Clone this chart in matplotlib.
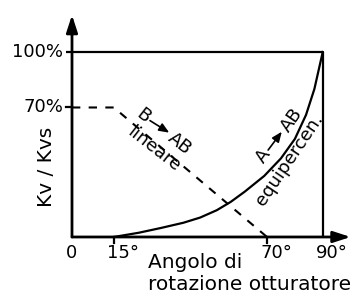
import matplotlib
matplotlib.use('Agg')
import matplotlib.pyplot as plt
import matplotlib.transforms as mtransforms

# valve characteristic
eq_angle = [15, 24, 32, 40, 46, 52, 57, 62, 69, 75, 80, 84, 87, 90]
eq_value = [0, 2.3, 4.9, 7.7, 10.5, 14.5, 19, 24.5, 33, 42.5, 53, 66, 80, 100]

lin_angle = [0, 15, 70]
lin_value = [70, 70, 0]

x_ticks = [0, 15, 70, 90]
x_labels = ['0', '15°', '70°', '90°']
y_ticks = [70, 100]
y_labels = ['70%', '100%']

plt.rcParams['font.family'] = ['DejaVu Sans']
FS = 13
FS_T = 14.5

fig = plt.figure(figsize=(3.53, 2.96), dpi=100)
ax = fig.add_axes([0, 0, 1, 1])
ax.set_xlim(-25.84, 100.86)
ax.set_ylim(-31.9, 128.1)
ax.axis('off')

# axes with arrow heads
arrow = dict(arrowstyle='-|>,head_length=0.8,head_width=0.26', lw=2, color='black',
             mutation_scale=13, shrinkA=0, shrinkB=0)
ax.annotate('', xy=(0, 120), xytext=(0, 0), arrowprops=arrow)
ax.annotate('', xy=(100, 0), xytext=(0, 0), arrowprops=arrow)

# box to 100% / 90 deg
ax.plot([-2.2, 90], [100, 100], color='black', lw=1.6, solid_capstyle='butt')
ax.plot([90, 90], [0, 100], color='black', lw=1.6, solid_capstyle='butt')

# ticks
ax.plot([-2.2, 0], [70, 70], color='black', lw=1.6)
for t in [15, 70]:
    ax.plot([t, t], [0, -3], color='black', lw=1.6)

# curves
ax.plot(lin_angle, lin_value, color='black', lw=1.5, linestyle=(0, (4, 4)))
ax.plot(eq_angle, eq_value, color='black', lw=1.6)

# tick labels
for t, lab in zip(y_ticks, y_labels):
    ax.text(-3.2, t, lab, ha='right', va='center', fontsize=FS)
for t, lab in zip(x_ticks, x_labels):
    dx = 0 if lab == '0' else 9
    tr = mtransforms.offset_copy(ax.transData, fig=fig, x=dx, y=0, units='dots')
    ax.text(t, -4.0, lab, ha='center', va='top', fontsize=FS, transform=tr)

# axis titles
ax.text(-9.0, 37.8, 'Kv / Kvs', rotation=90, ha='center', va='center', fontsize=FS_T)
ax.text(27.3, -16.9, 'Angolo di', ha='left', va='baseline', fontsize=FS_T)
ax.text(27.3, -28.6, 'rotazione otturatore', ha='left', va='baseline', fontsize=FS_T)

# curve labels
small = dict(arrowstyle='-|>,head_length=0.6,head_width=0.25', lw=1.2, color='black',
             mutation_scale=10, shrinkA=0, shrinkB=0)
ax.text(25.6, 65.4, 'B', rotation=-38, ha='center', va='center', fontsize=FS,
        rotation_mode='anchor')
ax.annotate('', xy=(34.9, 56.4), xytext=(28.0, 62.9), arrowprops=small)
ax.text(38.8, 50.3, 'AB', rotation=-38, ha='center', va='center', fontsize=FS,
        rotation_mode='anchor')
ax.text(29.4, 47.6, 'lineare', rotation=-38, ha='center', va='center', fontsize=FS,
        rotation_mode='anchor')

ax.text(68.7, 43.5, 'A', rotation=55, ha='center', va='center', fontsize=FS,
        rotation_mode='anchor')
ax.annotate('', xy=(75.3, 56.9), xytext=(70.4, 47.0), arrowprops=small)
ax.text(78.9, 63.2, 'AB', rotation=55, ha='center', va='center', fontsize=FS,
        rotation_mode='anchor')
ax.text(78.2, 41.6, 'equipercen.', rotation=56, ha='center', va='center', fontsize=FS,
        rotation_mode='anchor')

fig.savefig('out.png', dpi=100)
